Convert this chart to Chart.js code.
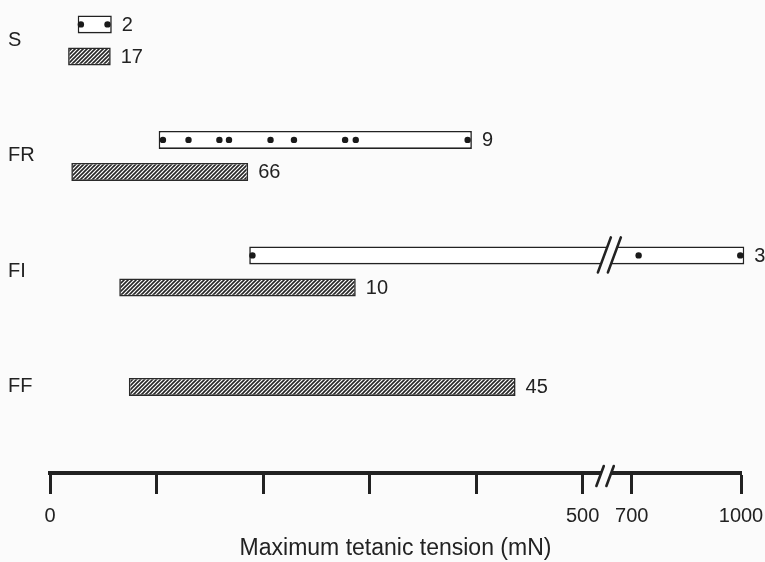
<!DOCTYPE html>
<html>
<head>
<meta charset="utf-8">
<title>Maximum tetanic tension by motor unit type</title>
<script src="https://cdn.jsdelivr.net/npm/chart.js@4.4.1/dist/chart.umd.min.js"></script>
<style>
    html, body { margin: 0; padding: 0; background: #fbfbfb; }
    #wrap { width: 765px; height: 562px; position: relative; }
</style>
</head>
<body>
<div id="wrap"><canvas id="chart"></canvas></div>
<script>
// motor unit types, top to bottom
const unitTypes = ['S', 'FR', 'FI', 'FF'];

// open bars: range of the single units (mN), how many, and each unit
const unitStart = [26, 102, 187, null];
const unitEnd = [58, 396, 1009, null];
const unitCount = [2, 9, 3, null];
const unitValues = [
    [29, 54],
    [106, 130, 159, 168, 207, 229, 277, 287, 392],
    [190, 719, 998],
    []
];

// hatched bars: range (mN) and count
const rangeStart = [17, 20, 65, 74];
const rangeEnd = [57, 186, 287, 437];
const rangeCount = [17, 66, 10, 45];

// x axis ticks (mN) and their labels
const tickValues = [0, 100, 200, 300, 400, 500, 700, 1000];
const tickLabels = ['0', '', '', '', '', '500', '700', '1000'];

// broken axis: linear up to 500, gap, then compressed 700-1000
const BREAK_LOW = 500;
const BREAK_HIGH = 700;
const BREAK_GAP = 46;
const HIGH_SCALE = 0.342;

function toAxis(v) {
    if (v <= BREAK_LOW) return v;
    return BREAK_LOW + BREAK_GAP + (v - BREAK_HIGH) * HIGH_SCALE;
}
const breakAt = BREAK_LOW + BREAK_GAP / 2;

const INK = '#222';
const BG = '#fbfbfb';

Chart.defaults.font.family = '"Liberation Sans", Arial, Helvetica, sans-serif';
Chart.defaults.color = INK;

const canvas = document.getElementById('chart');
const ctx = canvas.getContext('2d');

function makeHatch() {
    const c = document.createElement('canvas');
    c.width = 4;
    c.height = 4;
    const g = c.getContext('2d');
    g.fillStyle = '#ffffff';
    g.fillRect(0, 0, 4, 4);
    g.strokeStyle = '#262626';
    g.lineWidth = 1.6;
    g.beginPath();
    g.moveTo(-1, 5); g.lineTo(5, -1);
    g.moveTo(-1, 1); g.lineTo(1, -1);
    g.moveTo(3, 5); g.lineTo(5, 3);
    g.stroke();
    return ctx.createPattern(c, 'repeat');
}

function drawBreak(c, x, y, up, down) {
    const lean = 0.37;
    const half = 5;
    c.save();
    c.fillStyle = BG;
    c.beginPath();
    c.moveTo(x - half + up * lean, y - up);
    c.lineTo(x + half + up * lean, y - up);
    c.lineTo(x + half - down * lean, y + down);
    c.lineTo(x - half - down * lean, y + down);
    c.closePath();
    c.fill();
    c.strokeStyle = INK;
    c.lineWidth = 2.6;
    c.lineCap = 'round';
    c.beginPath();
    [-half, half].forEach(dx => {
        c.moveTo(x + dx + up * lean, y - up);
        c.lineTo(x + dx - down * lean, y + down);
    });
    c.stroke();
    c.restore();
}

const markers = {
    id: 'markers',
    afterDatasetsDraw(chart) {
        const c = chart.ctx;
        const xs = chart.scales.x;
        const bx = xs.getPixelForValue(breakAt);
        const openMeta = chart.getDatasetMeta(0);
        const hatchMeta = chart.getDatasetMeta(1);

        c.save();
        openMeta.data.forEach((bar, i) => {
            if (unitStart[i] == null) return;
            // single units as dots
            c.fillStyle = '#1a1a1a';
            unitValues[i].forEach(v => {
                c.beginPath();
                c.arc(xs.getPixelForValue(toAxis(v)), bar.y, 3.2, 0, Math.PI * 2);
                c.fill();
            });
            if (unitStart[i] < BREAK_LOW && unitEnd[i] > BREAK_HIGH) {
                drawBreak(c, bx + 2, bar.y, bar.height / 2 + 9, bar.height / 2 + 8);
            }
        });

        // counts next to the bars
        c.fillStyle = INK;
        c.font = '20px "Liberation Sans", Arial, sans-serif';
        c.textBaseline = 'middle';
        c.textAlign = 'left';
        openMeta.data.forEach((bar, i) => {
            if (unitCount[i] == null) return;
            c.fillText(String(unitCount[i]), bar.x + 10, bar.y + 1);
        });
        hatchMeta.data.forEach((bar, i) => {
            c.fillText(String(rangeCount[i]), bar.x + 10, bar.y + 1);
        });
        c.restore();
    },
    afterDraw(chart) {
        const xs = chart.scales.x;
        drawBreak(chart.ctx, xs.getPixelForValue(breakAt) - 1, chart.chartArea.bottom, 7, 13);
    }
};

const openData = unitTypes.map((t, i) => ({
    y: i,
    x: unitStart[i] == null ? null : [toAxis(unitStart[i]), toAxis(unitEnd[i])]
}));
const hatchData = unitTypes.map((t, i) => ({
    y: i,
    x: [toAxis(rangeStart[i]), toAxis(rangeEnd[i])]
}));

new Chart(ctx, {
    type: 'bar',
    data: {
        datasets: [
            {
                data: openData,
                backgroundColor: '#ffffff',
                borderColor: INK,
                borderWidth: 1.6,
                borderSkipped: false,
                skipNull: true,
                clip: false
            },
            {
                data: hatchData,
                backgroundColor: makeHatch(),
                borderColor: '#2a2a2a',
                borderWidth: 1.6,
                borderSkipped: false,
                skipNull: true,
                clip: false
            }
        ]
    },
    options: {
        indexAxis: 'y',
        responsive: true,
        maintainAspectRatio: false,
        animation: false,
        devicePixelRatio: 1,
        categoryPercentage: 0.555,
        barPercentage: 0.5625,
        maxBarThickness: 18,
        layout: { padding: { left: 8, right: 24, top: 0, bottom: 0 } },
        plugins: {
            legend: { display: false },
            tooltip: { enabled: false }
        },
        scales: {
            x: {
                type: 'linear',
                min: 0,
                max: toAxis(1000),
                afterBuildTicks: s => { s.ticks = tickValues.map(v => ({ value: toAxis(v) })); },
                afterFit: s => { s.height = 89; s.paddingLeft = 0; s.paddingRight = 0; },
                grid: { drawOnChartArea: false, drawTicks: true, tickLength: 21, tickWidth: 3, tickColor: INK },
                border: { display: true, width: 4, color: INK },
                ticks: {
                    padding: 10,
                    autoSkip: false,
                    maxRotation: 0,
                    font: { size: 20 },
                    color: INK,
                    callback: (v, i) => tickLabels[i]
                },
                title: {
                    display: true,
                    text: 'Maximum tetanic tension (mN)',
                    font: { size: 23 },
                    color: INK,
                    padding: { top: 8, bottom: 0 }
                }
            },
            y: {
                type: 'linear',
                offset: false,
                reverse: true,
                min: -0.35,
                max: 3.745,
                afterBuildTicks: s => { s.ticks = unitTypes.map((t, i) => ({ value: i })); },
                afterFit: s => { s.width = 42; s.paddingTop = 0; s.paddingBottom = 0; },
                grid: { display: false, offset: false },
                border: { display: false },
                ticks: {
                    crossAlign: 'far',
                    padding: 0,
                    font: { size: 20 },
                    color: INK,
                    callback: v => unitTypes[v]
                }
            }
        }
    },
    plugins: [markers]
});
</script>
</body>
</html>
